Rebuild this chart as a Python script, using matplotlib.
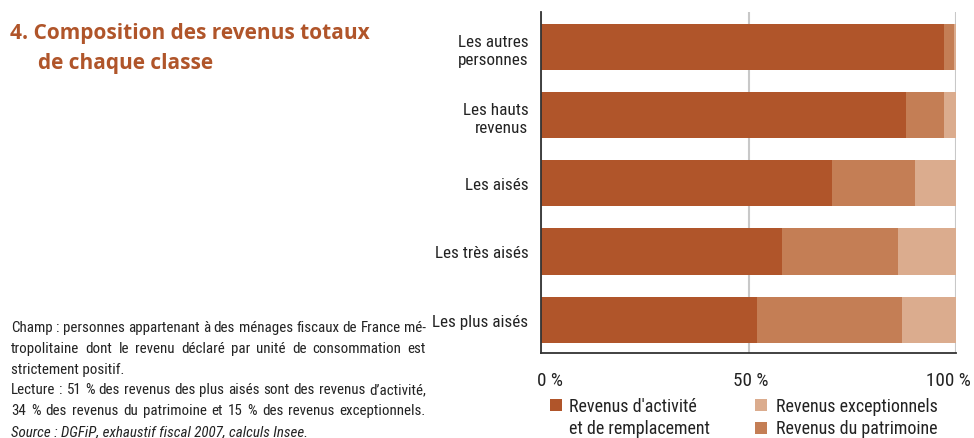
import os
import matplotlib
matplotlib.use("Agg")
import matplotlib.pyplot as plt
import matplotlib.font_manager as fm
import matplotlib.transforms as mtransforms
from matplotlib.patches import Rectangle
import numpy as np

# ---------------- data ----------------
categories = ["Les autres\npersonnes", "Les hauts\nrevenus", "Les aisés", "Les très aisés", "Les plus aisés"]
activite = [97, 88, 70, 58, 52]
patrimoine = [2.5, 9, 20, 28, 35]
exceptionnels = [0.5, 3, 10, 14, 13]
xticks = [0, 50, 100]
xticklabels = ["0 %", "50 %", "100 %"]
series_names = ["Revenus d'activité\net de remplacement", "Revenus du patrimoine", "Revenus exceptionnels"]

title_lines = ["4. Composition des revenus totaux", "de chaque classe"]
notes = [
    ("Champ : personnes appartenant à des ménages fiscaux de France mé-", True, False),
    ("tropolitaine dont le revenu déclaré par unité de consommation est", True, False),
    ("strictement positif.", False, False),
    ("Lecture : 51 % des revenus des plus aisés sont des revenus d\u2019activité,", True, False),
    ("34 % des revenus du patrimoine et 15 % des revenus exceptionnels.", True, False),
    ("Source : DGFiP, exhaustif fiscal 2007, calculs Insee.", False, True),
]

# ---------------- style ----------------
C_ACT = "#B0552A"
C_PAT = "#C47E55"
C_EXC = "#DBAC8E"
TITLE_C = "#B0552A"
TXT = "#222222"

files = {os.path.basename(f.fname): f.fname for f in fm.fontManager.ttflist}
def pick(cands):
    for c in cands:
        if c in files:
            return fm.FontProperties(fname=files[c])
    return None

REG = pick(["LiberationSansNarrow-Regular.ttf", "RobotoCondensed-Regular.ttf",
            "DejaVuSansCondensed.ttf", "Roboto-Regular.ttf"]) or fm.FontProperties(family="Roboto")
ITA = pick(["LiberationSansNarrow-Italic.ttf", "RobotoCondensed-Italic.ttf",
            "DejaVuSansCondensed-Oblique.ttf", "Roboto-Italic.ttf"]) or fm.FontProperties(family="Roboto", style="italic")
names = {f.name for f in fm.fontManager.ttflist}
TITLE_P = fm.FontProperties(family="Open Sans" if "Open Sans" in names else "DejaVu Sans", weight="bold")

fig = plt.figure(figsize=(9.74, 4.39), dpi=100)
W, H = 974, 439
renderer = fig.canvas.get_renderer()

def width_at(text, fp, size):
    p = fp.copy(); p.set_size(size)
    t = fig.text(0, 0, text, fontproperties=p)
    w = t.get_window_extent(renderer).width
    t.remove()
    return w

def fit(text, fp, target, ref=10.0):
    return ref * target / width_at(text, fp, ref)

def fp_size(fp, size):
    p = fp.copy(); p.set_size(size)
    return p

ax = fig.add_axes([541 / W, 1 - 354 / H, (956 - 541) / W, (354 - 13) / H])

y = np.arange(len(categories))
act = np.array(activite)
pat = np.array(patrimoine)
exc = np.array(exceptionnels)
bh = 0.676
ax.barh(y, act, height=bh, color=C_ACT, zorder=3)
ax.barh(y, pat, left=act, height=bh, color=C_PAT, zorder=3)
ax.barh(y, exc, left=act + pat, height=bh, color=C_EXC, zorder=3)

ax.set_xlim(0, 100)
ax.set_ylim(len(categories) - 1 + 0.49, -0.515)

ysize = min(fit("Les plus aisés", REG, 95), 14)
ax.set_yticks(y)
ax.set_yticklabels(categories, fontproperties=fp_size(REG, ysize), color=TXT, linespacing=1.3)
xsize = min(fit("100 %", REG, 44), 14)
ax.set_xticks(xticks)
ax.set_xticklabels(xticklabels, fontproperties=fp_size(REG, xsize), color=TXT)
ax.tick_params(axis="both", length=0)
ax.tick_params(axis="y", pad=9)
ax.tick_params(axis="x", pad=13)
offs = [9, 2, -8]
for lab, dx in zip(ax.get_xticklabels(), offs):
    lab.set_transform(lab.get_transform() + mtransforms.ScaledTranslation(dx / 100, 0, fig.dpi_scale_trans))

ax.grid(axis="x", color="#c8c8c8", linewidth=1.5, zorder=0)
for s in ["top", "right"]:
    ax.spines[s].set_visible(False)
for s in ["left", "bottom"]:
    ax.spines[s].set_color("#333333")
    ax.spines[s].set_linewidth(1.3)
    ax.spines[s].set_zorder(4)

# ---------------- legend (drawn by hand to match the two-column layout) ----------------
lsize = min(fit("Revenus exceptionnels", REG, 161), 14)
lfp = fp_size(REG, lsize)
legend_items = [
    (C_ACT, series_names[0], 550, 399.5, 569, 412),
    (C_EXC, series_names[2], 755, 399.5, 776, 412),
    (C_PAT, series_names[1], 755, 423, 776, 434),
]
for col, lab, sx, sy, tx, ty in legend_items:
    fig.patches.append(Rectangle((sx / W, 1 - (sy + 12) / H), 12 / W, 12 / H,
                                 transform=fig.transFigure, facecolor=col, edgecolor="none"))
    for k, part in enumerate(lab.split("\n")):
        fig.text(tx / W, 1 - (ty + 22 * k) / H, part, fontproperties=lfp, color=TXT, va="baseline")

# ---------------- title ----------------
tsize = fit(title_lines[0], TITLE_P, 361)
tfp = fp_size(TITLE_P, tsize)
fig.text(10 / W, 1 - 39 / H, title_lines[0], fontproperties=tfp, color=TITLE_C, va="baseline")
fig.text(38 / W, 1 - 69 / H, title_lines[1], fontproperties=tfp, color=TITLE_C, va="baseline")

# ---------------- notes (justified) ----------------
left_px, right_px = 11, 426
span = right_px - left_px
nsize = min([fit(l, REG, span - 4) for l, j, it in notes if j] + [11.5])
nreg = fp_size(REG, nsize)
nita = fp_size(ITA, nsize)
base0, step = 332, 20.8
for i, (line, justify, italic) in enumerate(notes):
    ybase = 1 - (base0 + i * step) / H
    fp = nita if italic else nreg
    if not justify:
        fig.text(left_px / W, ybase, line, fontproperties=fp, color=TXT, va="baseline")
        continue
    words = line.split(" ")
    widths = [width_at(wd, fp, nsize) for wd in words]
    gap = (span - sum(widths)) / (len(words) - 1)
    x = left_px
    for wd, wdt in zip(words, widths):
        fig.text(x / W, ybase, wd, fontproperties=fp, color=TXT, va="baseline")
        x += wdt + gap

fig.savefig("out.png", dpi=100)
